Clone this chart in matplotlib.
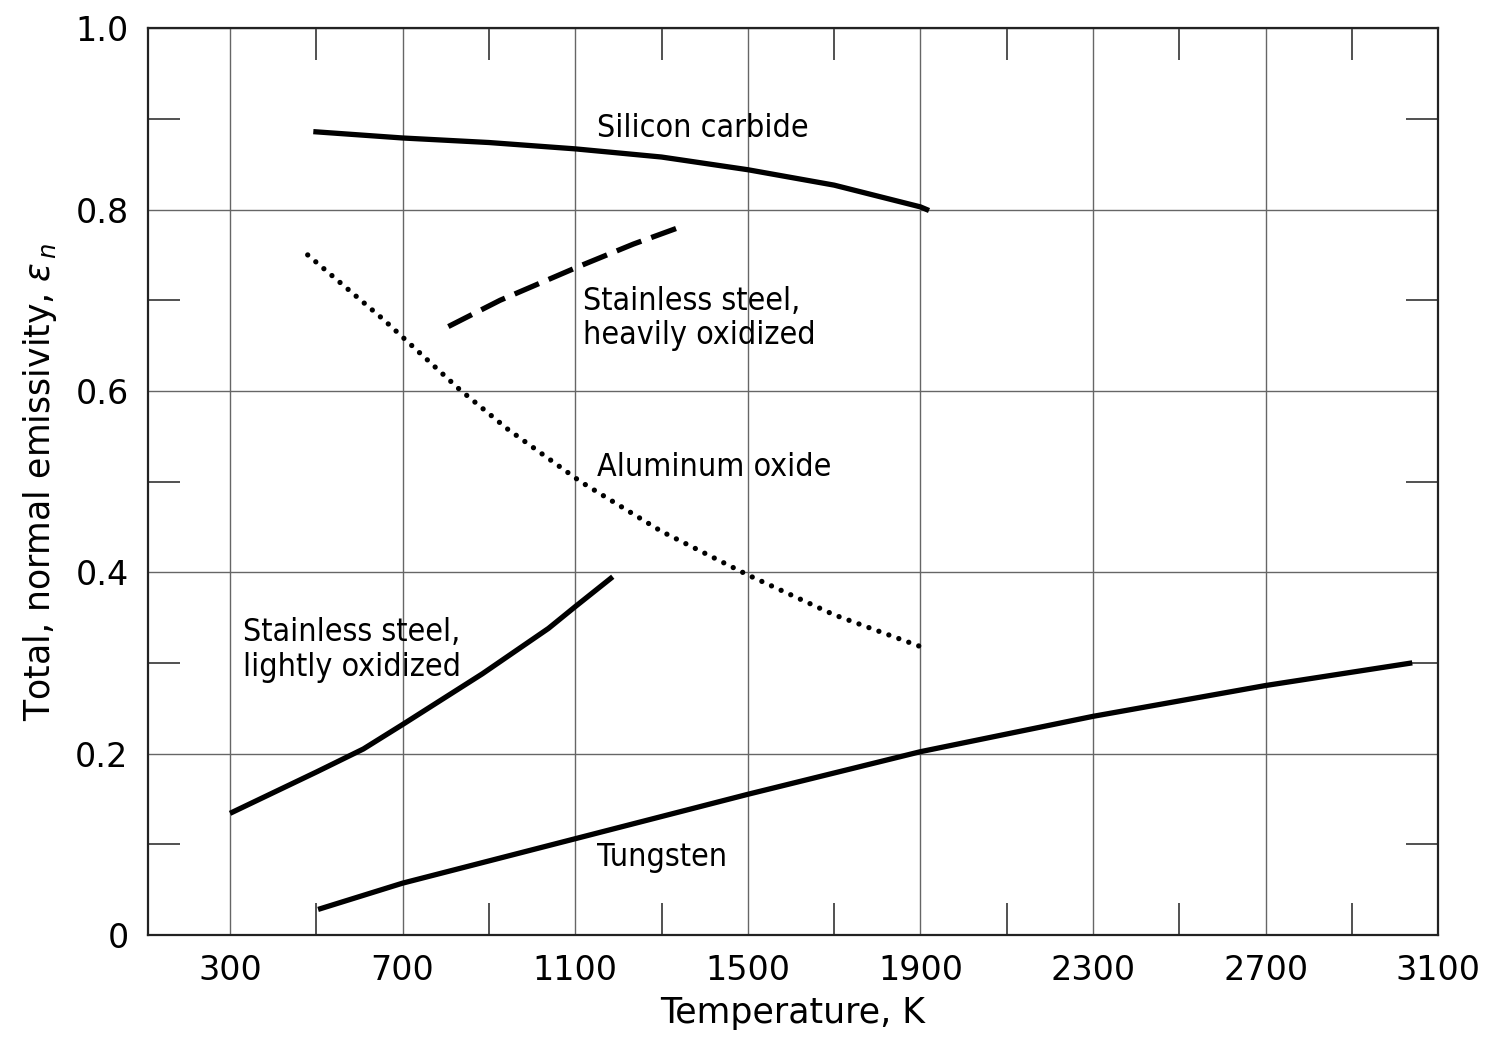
import numpy as np
import matplotlib
matplotlib.use("Agg")
import matplotlib.pyplot as plt
from matplotlib.ticker import FixedLocator

# values (temperature in K, emissivity)
sic_T = [493, 700, 900, 1100, 1300, 1500, 1700, 1900, 1920]
sic_e = [0.886, 0.879, 0.874, 0.867, 0.858, 0.844, 0.827, 0.803, 0.799]

ss_heavy_T = [806, 926, 1112, 1235, 1356]
ss_heavy_e = [0.671, 0.700, 0.738, 0.762, 0.783]

al2o3_T = [480, 655, 831, 943, 1112, 1300, 1500, 1700, 1900]
al2o3_e = [0.750, 0.679, 0.602, 0.558, 0.500, 0.445, 0.397, 0.353, 0.318]

ss_light_T = [300, 502, 609, 700, 885, 1038, 1100, 1187]
ss_light_e = [0.134, 0.180, 0.205, 0.232, 0.288, 0.338, 0.362, 0.395]

tungsten_T = [504, 700, 1100, 1500, 1900, 2300, 2700, 3040]
tungsten_e = [0.028, 0.057, 0.106, 0.155, 0.202, 0.241, 0.275, 0.300]

x_major = [300, 700, 1100, 1500, 1900, 2300, 2700, 3100]
x_minor = [500, 900, 1300, 1700, 2100, 2500, 2900]
y_major = [0, 0.2, 0.4, 0.6, 0.8, 1.0]
y_labels = ["0", "0.2", "0.4", "0.6", "0.8", "1.0"]
y_minor = [0.1, 0.3, 0.5, 0.7, 0.9]

fig = plt.figure(figsize=(14.88, 10.48), dpi=100)
ax = fig.add_axes([0.0995, 0.108, 0.867, 0.865])

lw = 3.8
ax.plot(sic_T, sic_e, color="black", lw=lw, solid_capstyle="butt")
ax.plot(ss_heavy_T, ss_heavy_e, color="black", lw=lw, linestyle=(0, (5, 2)))
ax.plot(al2o3_T, al2o3_e, color="black", lw=3.8, linestyle=(0, (0.01, 2.0)),
        dash_capstyle="round")
ax.plot(ss_light_T, ss_light_e, color="black", lw=lw, solid_capstyle="butt")
ax.plot(tungsten_T, tungsten_e, color="black", lw=lw, solid_capstyle="butt")

ax.set_xlim(110, 3100)
ax.set_ylim(0, 1.0)

ax.xaxis.set_major_locator(FixedLocator(x_major))
ax.xaxis.set_minor_locator(FixedLocator(x_minor))
ax.yaxis.set_major_locator(FixedLocator(y_major))
ax.yaxis.set_minor_locator(FixedLocator(y_minor))
ax.set_yticklabels(y_labels)

ax.tick_params(which="major", length=0, labelsize=24, pad=14)
ax.tick_params(which="minor", direction="in", length=23, width=1.2,
               top=True, right=True, color="#333333")
ax.grid(True, which="major", color="#666666", lw=1.0)

for s in ax.spines.values():
    s.set_linewidth(1.6)
    s.set_color("#222222")

ax.set_xlabel("Temperature, K", fontsize=25, labelpad=6)
ax.set_ylabel(r"Total, normal emissivity, $\varepsilon_{\,n}$", fontsize=25,
              labelpad=12)

lab = dict(fontsize=23, family="DejaVu Sans", fontstretch="condensed",
           va="center", ha="left", linespacing=1.15)
ax.text(1151, 0.890, "Silicon carbide", **lab)
ax.text(1117, 0.680, "Stainless steel,\nheavily oxidized", **lab)
ax.text(1151, 0.516, "Aluminum oxide", **lab)
ax.text(330, 0.314, "Stainless steel,\nlightly oxidized", **lab)
ax.text(1150, 0.085, "Tungsten", **lab)

fig.savefig("out.png", dpi=100)
